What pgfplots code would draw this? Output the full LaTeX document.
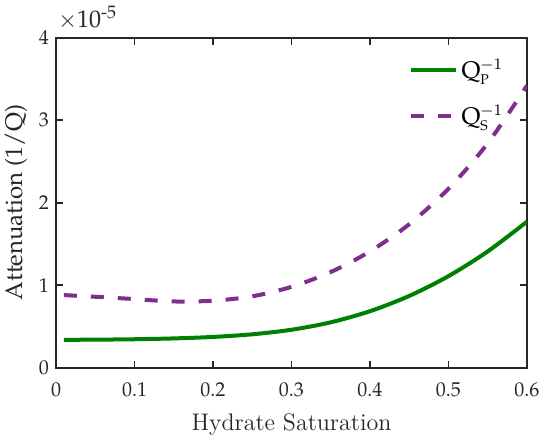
\documentclass[border=0pt]{standalone}
\usepackage[T1,TU]{fontenc}
\usepackage{pgfplots}
\pgfplotsset{compat=1.18}
\newcommand\pal{\fontencoding{T1}\fontfamily{ppl}\selectfont}
\definecolor{qp}{RGB}{0,128,0}
\definecolor{qs}{RGB}{126,47,142}
\definecolor{ax}{RGB}{38,38,38}
\begin{document}
\begin{tikzpicture}
\path[use as bounding box] (-28pt,-33.65pt) rectangle (247pt,183.85pt);
\begin{axis}[
  at={(0,0)}, anchor=south west,
  scale only axis, width=235.5pt, height=165pt,
  clip mode=individual,
  xmin=0, xmax=0.6, ymin=0, ymax=4,
  xtick={0,0.1,0.2,0.3,0.4,0.5,0.6},
  xticklabels={0,0.1,0.2,0.3,0.4,0.5,0.6},
  ytick={0,1,2,3,4},
  yticklabels={0,1,2,3,4},
  tick align=inside, major tick length=3.5pt,
  axis line style={ax, line width=0.8pt},
  every tick/.style={ax, line width=0.8pt},
  tick label style={font=\pal, text=black!85},
  xticklabel style={yshift=-4pt},
  xlabel={\fontfamily{lmr}\selectfont Hydrate Saturation},
  ylabel={\pal Attenuation (1/Q)},
  label style={font=\large, text=black!85},
  xlabel style={at={(axis description cs:0.5,-0.19)}, anchor=base},
  ylabel style={at={(axis description cs:-0.085,0.5)}, anchor=center},
  legend style={draw=none, fill=none, at={(axis description cs:0.735,0.96)}, anchor=north west,
    font=\pal\large, row sep=8pt, /tikz/every odd column/.append style={column sep=0pt}},
  legend cell align=left,
  legend image code/.code={\draw[#1] (0cm,0cm) -- (0.79cm,0cm);},
]
\addplot[qp, line width=2pt, smooth] coordinates {
 (0.01,0.338) (0.05,0.340) (0.1,0.345) (0.15,0.355) (0.2,0.373) (0.25,0.405)
 (0.3,0.46) (0.35,0.55) (0.4,0.685) (0.45,0.87) (0.5,1.11) (0.55,1.41) (0.6,1.77)};
\addlegendentry{Q$^{-1}_{\mbox{\pal\scriptsize P}}$}
\addplot[qs, line width=2pt, dash pattern=on 6.5pt off 7pt, smooth] coordinates {
 (0.01,0.88) (0.05,0.86) (0.1,0.832) (0.15,0.803) (0.2,0.812) (0.25,0.865)
 (0.3,0.98) (0.35,1.16) (0.4,1.41) (0.45,1.74) (0.5,2.17) (0.55,2.72) (0.6,3.42)};
\addlegendentry{Q$^{-1}_{\mbox{\pal\scriptsize S}}$}
\node[anchor=south west, inner sep=0pt, font=\pal\large, text=black!85] at (rel axis cs:0,1) [xshift=1pt, yshift=4pt] {$\times$10$^{\mbox{\pal\small -5}}$};
\end{axis}
\end{tikzpicture}
\end{document}
